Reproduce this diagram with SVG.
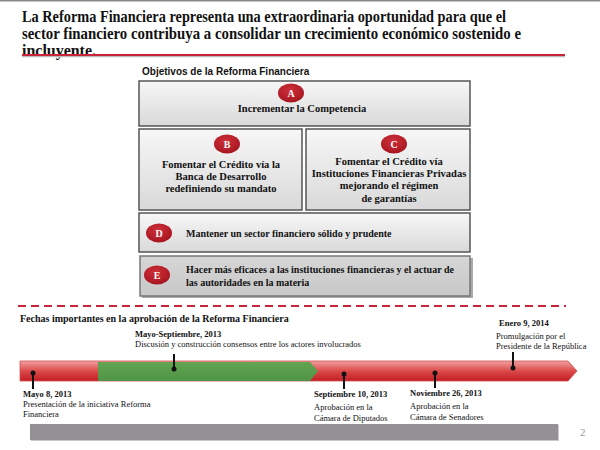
<svg xmlns="http://www.w3.org/2000/svg" width="600" height="450" viewBox="0 0 600 450">
<defs>
<linearGradient id="gBox" x1="0" y1="0" x2="0" y2="1"><stop offset="0" stop-color="#f7f7f7"/><stop offset="1" stop-color="#d9d9d9"/></linearGradient>
<linearGradient id="gBoxE" x1="0" y1="0" x2="0" y2="1"><stop offset="0" stop-color="#d6d6d6"/><stop offset="1" stop-color="#c8c8c8"/></linearGradient>
<linearGradient id="gRed" x1="0" y1="0" x2="0" y2="1"><stop offset="0" stop-color="#f0a0a0"/><stop offset="0.5" stop-color="#dc4a4a"/><stop offset="1" stop-color="#c21d24"/></linearGradient>
<linearGradient id="gGreen" x1="0" y1="0" x2="0" y2="1"><stop offset="0" stop-color="#62a452"/><stop offset="1" stop-color="#4f9445"/></linearGradient>
<radialGradient id="gBadge" cx="0.45" cy="0.35" r="0.7"><stop offset="0" stop-color="#d0303a"/><stop offset="1" stop-color="#a3141e"/></radialGradient>
</defs>
<style>
.box{fill:url(#gBox);stroke:#555;stroke-width:1.5}
.badge{fill:url(#gBadge)}
.bl{font-family:"Liberation Serif",serif;font-weight:bold;font-size:10px;fill:#fff;text-anchor:middle}
.bt{font-family:"Liberation Serif",serif;font-weight:bold;font-size:10.5px;fill:#111}
.bs{font-size:10px}
.c{text-anchor:middle}
.title{font-family:"Liberation Serif",serif;font-weight:bold;font-size:16px;fill:#111}
.sub{font-family:"Liberation Sans",Arial,sans-serif;font-weight:bold;font-size:10px;fill:#111}
.th{font-family:"Liberation Serif",serif;font-weight:bold;font-size:10px;fill:#111}
.dh{font-family:"Liberation Serif",serif;font-weight:bold;font-size:8.5px;fill:#111}
.dt{font-family:"Liberation Serif",serif;font-size:8.5px;fill:#111}
.pin{stroke:#111;stroke-width:2}
</style>
<rect x="0" y="0" width="600" height="1.5" fill="#888"/>
<g id="header">
<text class="title" x="22" y="22" textLength="484" lengthAdjust="spacingAndGlyphs">La Reforma Financiera representa una extraordinaria oportunidad para que el</text>
<text class="title" x="22" y="39" textLength="499" lengthAdjust="spacingAndGlyphs">sector financiero contribuya a consolidar un crecimiento económico sostenido e</text>
<text class="title" x="22" y="56" textLength="74" lengthAdjust="spacingAndGlyphs">incluyente.</text>
<line x1="22" y1="56.5" x2="565" y2="56.5" stroke="#bbb" stroke-width="1.5"/>
<line x1="22" y1="55" x2="565" y2="55" stroke="#c8243a" stroke-width="2"/>
</g>
<text class="sub" x="142" y="75">Objetivos de la Reforma Financiera</text>
<g id="nodeA">
<rect class="box" x="139" y="81" width="331" height="45"/>
<ellipse class="badge" cx="291" cy="93" rx="13" ry="9.5"/>
<text class="bl" x="291" y="97">A</text>
<text class="bt c" x="302" y="112">Incrementar la Competencia</text>
</g>
<g id="nodeB">
<rect class="box" x="139" y="129" width="163" height="81"/>
<ellipse class="badge" cx="227" cy="144" rx="13" ry="9.5"/>
<text class="bl" x="227" y="148">B</text>
<text class="bt c" x="221" y="168">Fomentar el Crédito vía la</text>
<text class="bt c" x="221" y="180">Banca de Desarrollo</text>
<text class="bt c" x="221" y="192">redefiniendo su mandato</text>
</g>
<g id="nodeC">
<rect class="box" x="306" y="129" width="164" height="81"/>
<ellipse class="badge" cx="394" cy="144" rx="13" ry="9.5"/>
<text class="bl" x="394" y="148">C</text>
<text class="bt c" x="389" y="165">Fomentar el Crédito vía</text>
<text class="bt c" x="389" y="177">Instituciones Financieras Privadas</text>
<text class="bt c" x="389" y="189">mejorando el régimen</text>
<text class="bt c" x="389" y="202">de garantías</text>
</g>
<g id="nodeD">
<rect class="box" x="139" y="213" width="331" height="39"/>
<ellipse class="badge" cx="159" cy="233" rx="13" ry="9.5"/>
<text class="bl" x="159" y="237">D</text>
<text class="bt bs" x="186" y="237">Mantener un sector financiero sólido y prudente</text>
</g>
<g id="nodeE">
<rect x="142" y="258" width="331" height="40" fill="#aaa"/>
<rect x="140" y="256" width="330" height="40" fill="url(#gBoxE)" stroke="#777" stroke-width="1.5"/>
<ellipse class="badge" cx="157" cy="275" rx="13" ry="9.5"/>
<text class="bl" x="157" y="279">E</text>
<text class="bt bs" x="186" y="273">Hacer más eficaces a las instituciones financieras y el actuar de</text>
<text class="bt bs" x="186" y="286">las autoridades en la materia</text>
</g>
<line x1="18" y1="306" x2="566" y2="306" stroke="#c8243a" stroke-width="2" stroke-dasharray="8,5"/>
<text class="th" x="20" y="322">Fechas importantes en la aprobación de la Reforma Financiera</text>
<g id="timeline">
<polygon points="20,361 568,361 577,371 568,381 20,381" fill="url(#gRed)" stroke="#d05050" stroke-width="0.8"/>
<polygon points="98,362 310,362 318,371 310,381 98,381" fill="url(#gGreen)"/>
</g>
<g id="connectors">
<line class="pin" x1="33" y1="373" x2="33" y2="389"/><circle cx="33" cy="373" r="2.5" fill="#111"/>
<line class="pin" x1="174" y1="354" x2="174" y2="369"/><circle cx="174" cy="369" r="2.5" fill="#111"/>
<line class="pin" x1="344" y1="374" x2="344" y2="389"/><circle cx="344" cy="374" r="2.5" fill="#111"/>
<line class="pin" x1="435" y1="373" x2="435" y2="388"/><circle cx="435" cy="373" r="2.5" fill="#111"/>
<line class="pin" x1="513" y1="352" x2="513" y2="368"/><circle cx="513" cy="368" r="2.5" fill="#111"/>
</g>
<g id="ev1">
<text class="dh" x="23" y="397">Mayo 8, 2013</text>
<text class="dt" x="23" y="407">Presentación de la iniciativa Reforma</text>
<text class="dt" x="23" y="417">Financiera</text>
</g>
<g id="ev2">
<text class="dh" x="135" y="337">Mayo-Septiembre, 2013</text>
<text class="dt" x="135" y="347">Discusión y construcción consensos entre los actores involucrados</text>
</g>
<g id="ev3">
<text class="dh" x="314" y="397">Septiembre 10, 2013</text>
<text class="dt" x="314" y="410">Aprobación en la</text>
<text class="dt" x="314" y="421">Cámara de Diputados</text>
</g>
<g id="ev4">
<text class="dh" x="410" y="396">Noviembre 26, 2013</text>
<text class="dt" x="410" y="409">Aprobación en la</text>
<text class="dt" x="410" y="420">Cámara de Senadores</text>
</g>
<g id="ev5">
<text class="dh" x="499" y="326">Enero 9, 2014</text>
<text class="dt" x="496" y="339">Promulgación por el</text>
<text class="dt" x="496" y="349">Presidente de la República</text>
</g>
<rect x="31" y="425" width="528" height="16" fill="#c8c8c8"/>
<rect x="30" y="424" width="528" height="16" fill="#939196"/>
<text x="580" y="436" font-family="Liberation Serif,serif" font-size="11" fill="#999">2</text>
</svg>
